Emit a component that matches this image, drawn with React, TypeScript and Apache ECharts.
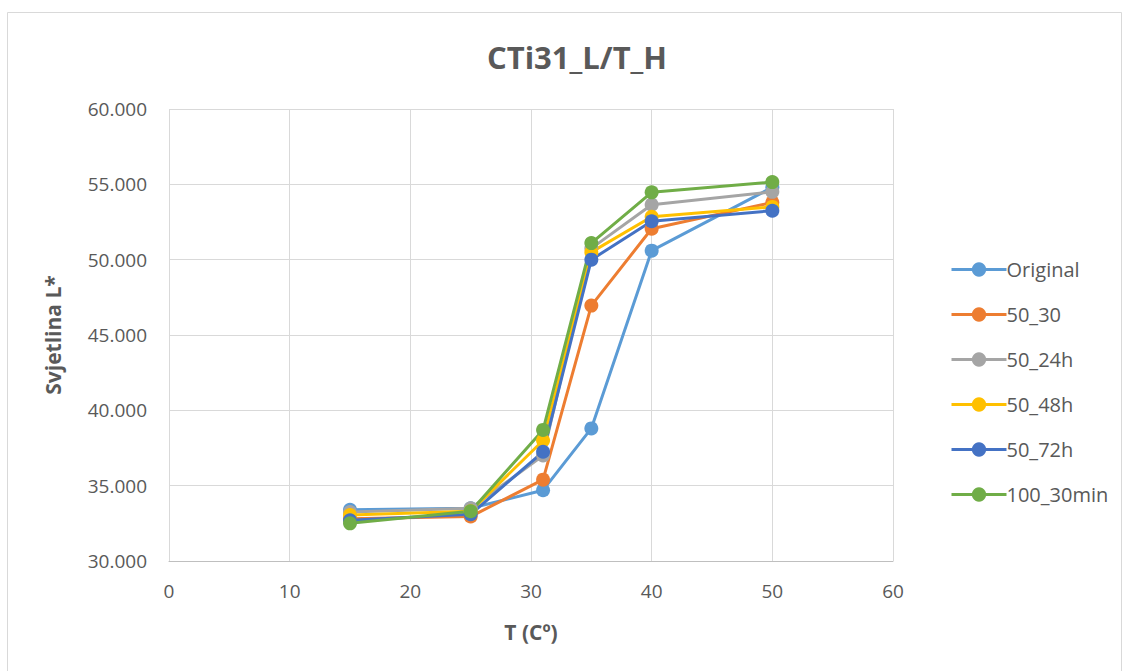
import React, { useEffect, useRef } from "react";
import * as echarts from "echarts";

const xValues = [15, 25, 31, 35, 40, 50];
const seriesNames = ["Original", "50_30", "50_24h", "50_48h", "50_72h", "100_30min"];
const original = [33.4, 33.5, 34.7, 38.8, 50.6, 54.8];
const s50_30 = [32.8, 32.95, 35.4, 46.95, 52.05, 53.8];
const s50_24h = [33.25, 33.5, 37.0, 50.75, 53.65, 54.5];
const s50_48h = [33.05, 33.3, 38.0, 50.5, 52.85, 53.5];
const s50_72h = [32.7, 33.1, 37.25, 50.0, 52.55, 53.25];
const s100_30min = [32.5, 33.3, 38.7, 51.1, 54.47, 55.15];
const colors = ["#5b9bd5", "#ed7d31", "#a5a5a5", "#ffc000", "#4472c4", "#70ad47"];
const allSeries = [original, s50_30, s50_24h, s50_48h, s50_72h, s100_30min];

const FONT = "'Open Sans', 'Noto Sans', sans-serif";

export default function App() {
  const ref = useRef<HTMLDivElement>(null);
  useEffect(() => {
    if (!ref.current) return;
    const chart = echarts.init(ref.current, null, { renderer: "svg" });
    chart.setOption({
      animation: false,
      backgroundColor: "#ffffff",
      title: {
        text: "CTi31_L/T_H",
        left: 572,
        top: 36,
        textAlign: "center",
        textStyle: { fontFamily: FONT, fontSize: 31, fontWeight: "bold", color: "#595959" },
      },
      graphic: [
        {
          type: "rect",
          shape: { x: 7.5, y: 12.5, width: 1114, height: 670 },
          style: { fill: "none", stroke: "#d9d9d9", lineWidth: 1 },
          silent: true,
        },
      ],
      legend: {
        orient: "vertical",
        left: 945,
        top: 254,
        itemGap: 24,
        itemWidth: 55,
        itemHeight: 18,
        lineStyle: { width: 3 },
        textStyle: { fontFamily: FONT, fontSize: 20, lineHeight: 21, color: "#595959", padding: [0, 0, 0, -5] },
        data: seriesNames,
      },
      grid: { left: 169, right: 237, top: 109, bottom: 110, containLabel: false },
      xAxis: {
        type: "value",
        min: 0,
        max: 60,
        interval: 10,
        name: "T (Cº)",
        nameLocation: "middle",
        nameGap: 60,
        nameTextStyle: { fontFamily: FONT, fontSize: 21, fontWeight: "bold", color: "#595959" },
        axisLine: { show: true, lineStyle: { color: "#bfbfbf", width: 1 } },
        axisTick: { show: false },
        axisLabel: { fontFamily: FONT, fontSize: 19, color: "#595959", margin: 20 },
        splitLine: { show: true, lineStyle: { color: "#d9d9d9", width: 1 } },
      },
      yAxis: {
        type: "value",
        min: 30,
        max: 60,
        interval: 5,
        name: "Svjetlina L*",
        nameLocation: "middle",
        nameGap: 106,
        nameRotate: 90,
        nameTextStyle: { fontFamily: FONT, fontSize: 21, fontWeight: "bold", color: "#595959" },
        axisLine: { show: false },
        axisTick: { show: false },
        axisLabel: {
          fontFamily: FONT,
          fontSize: 19,
          color: "#595959",
          margin: 22,
          formatter: (v: number) => v.toFixed(3),
        },
        splitLine: { show: true, lineStyle: { color: "#d9d9d9", width: 1 } },
      },
      series: allSeries.map((vals, i) => ({
        name: seriesNames[i],
        type: "line",
        data: xValues.map((x, j) => [x, vals[j]]),
        symbol: "circle",
        symbolSize: 14,
        lineStyle: { width: 3, color: colors[i] },
        itemStyle: { color: colors[i] },
        color: colors[i],
      })),
    });
    return () => chart.dispose();
  }, []);
  return (
    <div
      ref={ref}
      style={{ position: "fixed", left: 0, top: 0, width: 1130, height: 671 }}
    />
  );
}
